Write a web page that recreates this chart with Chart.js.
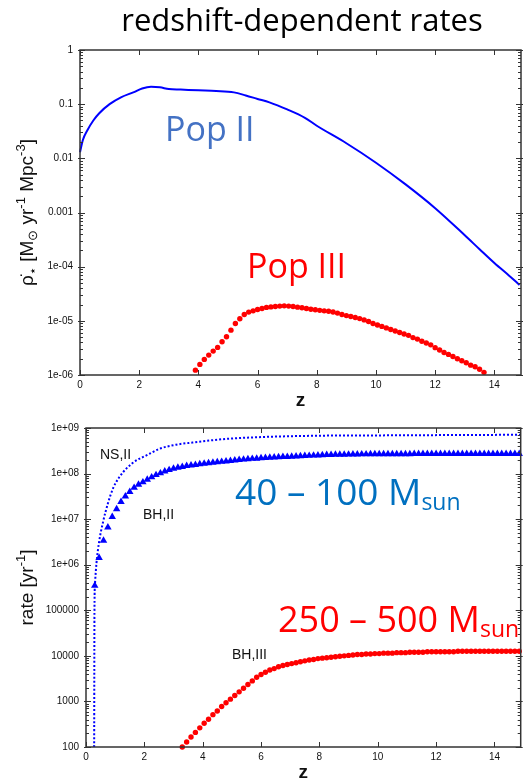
<!DOCTYPE html>
<html lang="en">
<head>
<meta charset="UTF-8">
<title>redshift-dependent rates</title>
<script src="https://cdn.jsdelivr.net/npm/chart.js"></script>
<style>
  body { margin: 0; background: #fff; }
  #wrap { position: relative; width: 525px; height: 781px; }
  canvas { position: absolute; left: 0; }
  #top-chart { top: 0; width: 525px; height: 415px; }
  #bottom-chart { top: 415px; width: 525px; height: 366px; }
</style>
</head>
<body>
<div id="wrap">
  <canvas id="top-chart" width="525" height="415"></canvas>
  <canvas id="bottom-chart" width="525" height="366"></canvas>
</div>
<script>
// ---- data ----
const zTicks = [0, 2, 4, 6, 8, 10, 12, 14];

const topTicks = [1, 0.1, 0.01, 0.001, 1e-4, 1e-5, 1e-6];
const topLabels = ['1', '0.1', '0.01', '0.001', '1e-04', '1e-05', '1e-06'];
const bottomTicks = [1e9, 1e8, 1e7, 1e6, 1e5, 1e4, 1e3, 1e2];
const bottomLabels = ['1e+09', '1e+08', '1e+07', '1e+06', '100000', '10000', '1000', '100'];

// Pop II star formation rate (solid line)
const popIIz = [0, 0.1, 0.25, 0.45, 0.65, 1.0, 1.4, 1.8, 2.1, 2.4, 2.7, 3.0, 3.4, 4.0, 4.6, 5.2, 5.6, 6.0, 6.4, 7.0, 7.6,
  8, 9, 10, 11, 12, 13, 13.5, 14, 14.5, 14.85];
const popIIrate = [0.013, 0.022, 0.033, 0.05, 0.068, 0.1, 0.135, 0.165, 0.195, 0.21, 0.205, 0.19, 0.186, 0.18, 0.175, 0.165, 0.145, 0.125, 0.108, 0.08, 0.056,
  0.04, 0.019, 0.0083, 0.0033, 0.0012, 3.8e-4, 2.1e-4, 1.17e-4, 6.8e-5, 4.6e-5];

// redshift grid of the dotted series
const zGrid = [0.3, 0.45, 0.6, 0.75, 0.9, 1.05, 1.2, 1.35, 1.5, 1.65, 1.8, 1.95, 2.1, 2.25, 2.4, 2.55, 2.7, 2.85, 3, 3.15,
  3.3, 3.45, 3.6, 3.75, 3.9, 4.05, 4.2, 4.35, 4.5, 4.65, 4.8, 4.95, 5.1, 5.25, 5.4, 5.55, 5.7, 5.85, 6, 6.15,
  6.3, 6.45, 6.6, 6.75, 6.9, 7.05, 7.2, 7.35, 7.5, 7.65, 7.8, 7.95, 8.1, 8.25, 8.4, 8.55, 8.7, 8.85, 9, 9.15,
  9.3, 9.45, 9.6, 9.75, 9.9, 10.05, 10.2, 10.35, 10.5, 10.65, 10.8, 10.95, 11.1, 11.25, 11.4, 11.55, 11.7, 11.85, 12, 12.15,
  12.3, 12.45, 12.6, 12.75, 12.9, 13.05, 13.2, 13.35, 13.5, 13.65, 13.8, 13.95, 14.1, 14.25, 14.4, 14.55, 14.7, 14.85];

// Pop III star formation rate (dots), z = 3.9 ... 13.65
const popIIIz = zGrid.slice(24, 90);
const popIIIrate = [1.23e-6, 1.57e-6, 1.94e-6, 2.33e-6, 2.76e-6, 3.23e-6, 4.1e-6, 5.07e-6, 6.73e-6, 8.95e-6,
  1.09e-5, 1.31e-5, 1.45e-5, 1.53e-5, 1.62e-5, 1.69e-5, 1.77e-5, 1.81e-5, 1.84e-5, 1.87e-5,
  1.89e-5, 1.87e-5, 1.84e-5, 1.79e-5, 1.74e-5, 1.69e-5, 1.64e-5, 1.6e-5, 1.56e-5, 1.53e-5,
  1.5e-5, 1.46e-5, 1.39e-5, 1.31e-5, 1.25e-5, 1.2e-5, 1.15e-5, 1.1e-5, 1.04e-5, 9.7e-6,
  8.95e-6, 8.4e-6, 7.9e-6, 7.4e-6, 6.9e-6, 6.5e-6, 6.1e-6, 5.7e-6, 5.4e-6, 4.9e-6,
  4.6e-6, 4.2e-6, 3.9e-6, 3.6e-6, 3.2e-6, 2.9e-6, 2.6e-6, 2.4e-6, 2.2e-6, 2.0e-6,
  1.83e-6, 1.68e-6, 1.52e-6, 1.42e-6, 1.28e-6, 1.12e-6];

// NS,II (dotted line)
const nsIIz = [0.28, 0.29, 0.31, 0.36, 0.45, 0.59, 0.75, 0.93, 1.15, 1.39, 1.7, 2.07, 2.52, 3.09, 3.65, 4.79, 5.93, 7.0, 8.2, 10.46, 12.5, 14.9];
const nsIIrate = [100, 1e5, 4e5, 1.1e6, 3.2e6, 9e6, 2.2e7, 4.8e7, 8.5e7, 1.3e8, 1.9e8, 2.5e8, 3.5e8, 4.3e8, 4.8e8, 5.75e8, 6.3e8, 6.6e8, 6.8e8, 6.9e8, 7.0e8, 7.1e8];

// BH,II (triangles), z = 0.3 ... 14.85
const bhIIz = zGrid;
const bhIIrate = [3.47e5, 1.41e6, 3.39e6, 6.6e6, 1.12e7, 1.66e7, 2.4e7, 3.16e7, 3.98e7, 4.9e7,
  5.75e7, 6.46e7, 7.41e7, 8.32e7, 9.33e7, 1.02e8, 1.12e8, 1.2e8, 1.29e8, 1.35e8,
  1.41e8, 1.48e8, 1.51e8, 1.55e8, 1.62e8, 1.66e8, 1.7e8, 1.74e8, 1.78e8, 1.82e8,
  1.86e8, 1.91e8, 1.95e8, 2.0e8, 2.04e8, 2.09e8, 2.12e8, 2.14e8, 2.19e8, 2.22e8,
  2.24e8, 2.27e8, 2.29e8, 2.32e8, 2.34e8, 2.37e8, 2.4e8, 2.42e8, 2.45e8, 2.47e8,
  2.5e8, 2.52e8, 2.55e8, 2.57e8, 2.58e8, 2.6e8, 2.61e8, 2.62e8, 2.63e8, 2.64e8,
  2.65e8, 2.66e8, 2.66e8, 2.67e8, 2.67e8, 2.68e8, 2.68e8, 2.68e8, 2.69e8, 2.69e8,
  2.69e8, 2.69e8, 2.69e8, 2.7e8, 2.7e8, 2.7e8, 2.7e8, 2.7e8, 2.7e8, 2.7e8,
  2.7e8, 2.7e8, 2.7e8, 2.7e8, 2.7e8, 2.7e8, 2.7e8, 2.7e8, 2.7e8, 2.7e8,
  2.7e8, 2.7e8, 2.7e8, 2.7e8, 2.7e8, 2.7e8, 2.7e8, 2.7e8];

// BH,III (dots), z = 3.3 ... 14.85
const bhIIIz = zGrid.slice(20);
const bhIIIrate = [100, 129, 166, 209, 263, 331, 407, 513, 617, 776,
  933, 1122, 1349, 1622, 1950, 2344, 2818, 3388, 3890, 4365,
  4898, 5248, 5754, 6166, 6457, 6761, 7079, 7413, 7762, 8128,
  8318, 8710, 8913, 9120, 9333, 9550, 9772, 10000, 10230, 10470,
  10720, 10720, 10960, 10960, 11220, 11220, 11480, 11480, 11480, 11750,
  11750, 11750, 12020, 12020, 12020, 12020, 12300, 12300, 12300, 12300,
  12300, 12300, 12300, 12590, 12590, 12590, 12590, 12590, 12590, 12590,
  12590, 12590, 12590, 12590, 12590, 12590, 12590, 12590];

const pts = (xs, ys) => xs.map((x, i) => ({ x: x, y: ys[i] }));

Chart.defaults.font.family = "'Liberation Sans', Arial, sans-serif";
Chart.defaults.color = '#111';

const SANS = "'Liberation Sans', Arial, sans-serif";
const OPEN = "'Open Sans', sans-serif";

function drawRich(ctx, parts, x, y, family, color, align) {
  let w = 0;
  parts.forEach(p => { ctx.font = (p.w || '') + ' ' + p.size + 'px ' + family; w += ctx.measureText(p.t).width; });
  let cx = align === 'center' ? x - w / 2 : x;
  ctx.fillStyle = color;
  ctx.textAlign = 'left';
  ctx.textBaseline = 'alphabetic';
  parts.forEach(p => {
    ctx.font = (p.w || '') + ' ' + p.size + 'px ' + family;
    ctx.fillText(p.t, cx, y + (p.dy || 0));
    cx += ctx.measureText(p.t).width;
  });
}

function makeFrame(decor) {
  return {
    id: 'frame',
    afterDraw(chart) {
      const ctx = chart.ctx, a = chart.chartArea;
      const xs = chart.scales.x, ys = chart.scales.y;
      ctx.save();
      ctx.strokeStyle = '#333';
      ctx.lineWidth = 1;
      ctx.beginPath();
      xs.ticks.forEach(t => {
        const px = Math.round(xs.getPixelForValue(t.value)) + 0.5;
        ctx.moveTo(px, a.bottom); ctx.lineTo(px, a.bottom - 5);
        ctx.moveTo(px, a.top); ctx.lineTo(px, a.top + 5);
      });
      ys.ticks.forEach(t => {
        const py = Math.round(ys.getPixelForValue(t.value)) + 0.5;
        ctx.moveTo(a.left - 2, py); ctx.lineTo(a.left + 5, py);
        ctx.moveTo(a.right + 2, py); ctx.lineTo(a.right - 5, py);
        for (let m = 2; m <= 9; m++) {
          const v = t.value * m;
          if (v >= ys.max) continue;
          const pm = Math.round(ys.getPixelForValue(v)) + 0.5;
          ctx.moveTo(a.left, pm); ctx.lineTo(a.left + 3, pm);
          ctx.moveTo(a.right, pm); ctx.lineTo(a.right - 3, pm);
        }
      });
      ctx.stroke();
      ctx.lineWidth = 1.5;
      ctx.strokeRect(a.left, a.top, a.right - a.left, a.bottom - a.top);

      // axis titles
      drawRich(ctx, [{ t: 'z', size: 19, w: 'bold' }], (a.left + a.right) / 2, decor.zTitleY, SANS, '#111', 'center');
      ctx.save();
      ctx.translate(decor.yTitle.x, (a.top + a.bottom) / 2);
      ctx.rotate(-Math.PI / 2);
      drawRich(ctx, decor.yTitle.parts, 0, 0, SANS, '#111', 'center');
      ctx.restore();

      decor.texts.forEach(d => drawRich(ctx, d.parts, d.x, d.y, d.family, d.color, d.align));
      ctx.restore();
    }
  };
}

function makeOptions(cfg) {
  return {
    responsive: false,
    animation: false,
    layout: { padding: { top: cfg.padTop, right: 1, left: 0, bottom: 0 } },
    plugins: { legend: { display: false }, tooltip: { enabled: false } },
    scales: {
      x: {
        type: 'linear', min: 0, max: 14.9,
        grid: { display: false, drawTicks: false },
        border: { display: false },
        afterBuildTicks: s => { s.ticks = zTicks.map(v => ({ value: v })); },
        afterFit: s => { s.height = cfg.xHeight; },
        ticks: { padding: 4, autoSkip: false, maxRotation: 0, font: { size: 10 }, callback: v => String(v) }
      },
      y: {
        type: 'logarithmic', min: cfg.yMin, max: cfg.yMax,
        grid: { display: false, drawTicks: false },
        border: { display: false },
        afterBuildTicks: s => { s.ticks = cfg.yTicks.map(v => ({ value: v })); },
        afterFit: s => { s.width = cfg.yWidth; },
        ticks: { padding: 7, autoSkip: false, font: { size: 10 }, callback: (v, i) => cfg.yLabels[i] }
      }
    }
  };
}

// ---- top panel ----
new Chart(document.getElementById('top-chart'), {
  type: 'scatter',
  data: {
    datasets: [
      {
        data: pts(popIIz, popIIrate), showLine: true, borderColor: '#0000ff', borderWidth: 2,
        pointRadius: 0, cubicInterpolationMode: 'monotone', clip: false
      },
      {
        data: pts(popIIIz, popIIIrate), showLine: false, pointStyle: 'circle', pointRadius: 2.7,
        backgroundColor: '#ff0000', borderColor: '#ff0000', borderWidth: 0, clip: false
      }
    ]
  },
  options: makeOptions({ padTop: 50, xHeight: 40, yWidth: 80, yMin: 1e-6, yMax: 1, yTicks: topTicks, yLabels: topLabels }),
  plugins: [makeFrame({
    zTitleY: 406,
    yTitle: {
      x: 33, parts: [
        { t: 'ρ̇', size: 19 }, { t: '⋆', size: 13, dy: 4 }, { t: ' [M', size: 19 }, { t: '⊙', size: 13, dy: 4 },
        { t: ' yr', size: 19 }, { t: '-1', size: 13, dy: -8 }, { t: ' Mpc', size: 19 }, { t: '-3', size: 13, dy: -8 }, { t: ']', size: 19 }
      ]
    },
    texts: [
      { parts: [{ t: 'redshift-dependent rates', size: 31 }], x: 302, y: 31, family: OPEN, color: '#000', align: 'center' },
      { parts: [{ t: 'Pop II', size: 34 }], x: 165, y: 141, family: OPEN, color: '#4472c4' },
      { parts: [{ t: 'Pop III', size: 34 }], x: 247, y: 278, family: OPEN, color: '#ff0000' }
    ]
  })]
});

// ---- bottom panel ----
new Chart(document.getElementById('bottom-chart'), {
  type: 'scatter',
  data: {
    datasets: [
      {
        data: pts(nsIIz, nsIIrate), showLine: true, borderColor: '#0000ff', borderWidth: 2, borderDash: [2, 2],
        pointRadius: 0, cubicInterpolationMode: 'monotone'
      },
      {
        data: pts(bhIIz, bhIIrate), showLine: false, pointStyle: 'triangle', pointRadius: 4.3,
        backgroundColor: '#0000ff', borderColor: '#0000ff', borderWidth: 0, clip: false
      },
      {
        data: pts(bhIIIz, bhIIIrate), showLine: false, pointStyle: 'circle', pointRadius: 2.7,
        backgroundColor: '#ff0000', borderColor: '#ff0000', borderWidth: 0, clip: false
      }
    ]
  },
  options: makeOptions({ padTop: 7, xHeight: 34, yWidth: 86, yMin: 100, yMax: 1e9, yTicks: bottomTicks, yLabels: bottomLabels }),
  plugins: [makeFrame({
    zTitleY: 363,
    yTitle: { x: 33, parts: [{ t: 'rate [yr', size: 19 }, { t: '-1', size: 13, dy: -8 }, { t: ']', size: 19 }] },
    texts: [
      { parts: [{ t: 'NS,II', size: 14 }], x: 100, y: 44, family: SANS, color: '#111' },
      { parts: [{ t: 'BH,II', size: 14 }], x: 143, y: 104, family: SANS, color: '#111' },
      { parts: [{ t: 'BH,III', size: 14 }], x: 232, y: 244, family: SANS, color: '#111' },
      { parts: [{ t: '40 – 100 M', size: 37 }, { t: 'sun', size: 23, dy: 5 }], x: 235, y: 90, family: OPEN, color: '#0070c0' },
      { parts: [{ t: '250 – 500 M', size: 36 }, { t: 'sun', size: 23, dy: 5 }], x: 278, y: 217, family: OPEN, color: '#ff0000' }
    ]
  })]
});
</script>
</body>
</html>
